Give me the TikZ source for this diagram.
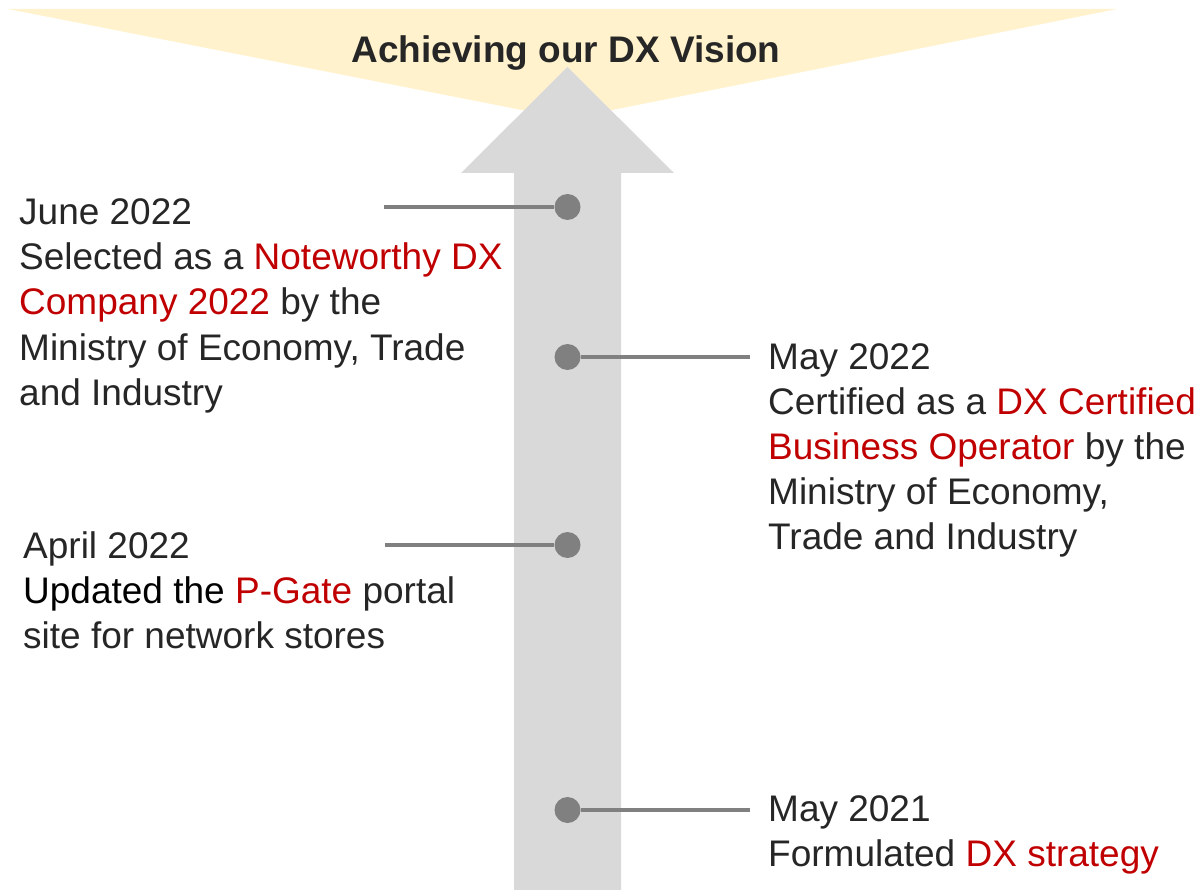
\documentclass[tikz,border=0pt]{standalone}
\usepackage{fontspec}
\setmainfont{Liberation Sans}
\usepackage{xcolor}
\usetikzlibrary{positioning}

\definecolor{visionyellow}{HTML}{FFF2CC}
\definecolor{arrowgray}{HTML}{D9D9D9}
\definecolor{dotgray}{HTML}{808080}
\definecolor{textgray}{HTML}{262626}
\definecolor{dxred}{HTML}{C00000}

\newcommand{\hl}[1]{\textcolor{dxred}{#1}}

\begin{document}
\begin{tikzpicture}[x=1pt, y=-1pt,
  milestone/.style={circle, fill=dotgray, minimum size=26pt, inner sep=0pt},
  leader/.style={dotgray, line width=3.5pt},
  event/.style={anchor=base west, align=left, inner sep=0pt, text=textgray,
    font=\fontsize{37}{45}\selectfont}]

\useasboundingbox (0,0) rectangle (1199,890);

% vision banner
\fill[visionyellow] (8,9)--(1117,9)--(567.5,119)--cycle;

% big arrow
\fill[arrowgray] (567.5,67)--(674,173)--(621,173)--(621,890)
  --(514,890)--(514,173)--(461,173)--cycle;

\node[anchor=base, inner sep=0pt, text=textgray,
  font=\fontsize{37}{45}\selectfont\bfseries] (vision) at (566,63)
  {Achieving our DX Vision};


% milestones
{
\node[milestone] (jun22) at (567.5,207) {};
\node[milestone] (may22) at (567.5,357) {};
\node[milestone] (apr22) at (567.5,545) {};
\node[milestone] (may21) at (567.5,810) {};

\coordinate (jun22end) at (384,207);
\coordinate (may22end) at (750,357);
\coordinate (apr22end) at (385,545);
\coordinate (may21end) at (750,810);

\draw[leader] (jun22end) -- (jun22);
\draw[leader] (may22) -- (may22end);
\draw[leader] (apr22end) -- (apr22);
\draw[leader] (may21) -- (may21end);
}


% texts (base = baseline of the last line)
\node[event] (jun22text) at (19,405)
{June 2022\\
Selected as a \hl{Noteworthy DX}\\
\hl{Company 2022} by the\\
Ministry of Economy, Trade\\
and Industry};

\node[event] (may22text) at (768,549)
{May 2022\\
Certified as a \hl{DX Certified}\\
\hl{Business Operator} by the\\
Ministry of Economy,\\
Trade and Industry};

\node[event] (apr22text) at (23,648)
{April 2022\\
\textcolor{black}{Updated the} \hl{P-Gate} portal\\
site for network stores};

\node[event] (may21text) at (768,866)
{May 2021\\
Formulated \hl{DX strategy}};

\end{tikzpicture}
\end{document}
